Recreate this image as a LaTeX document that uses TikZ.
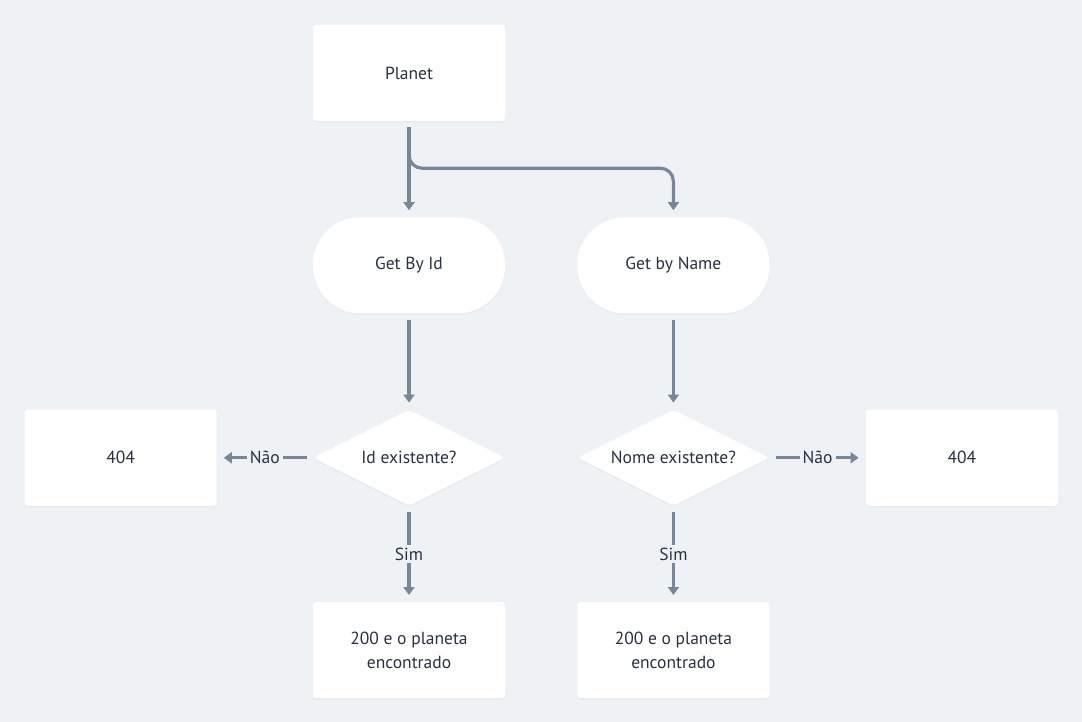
\documentclass[tikz,border=0pt]{standalone}
\usepackage{fontspec}
\setmainfont{PT Sans}
\usepackage{tikz}
\usetikzlibrary{shapes.geometric, arrows.meta, positioning, shadows}
\usepackage{xcolor}
\definecolor{bgcol}{RGB}{239,242,245}
\definecolor{linecol}{RGB}{120,135,152}
\definecolor{txtcol}{RGB}{40,50,66}
\tikzset{
	box/.style={fill=white, rounded corners=3pt, minimum width=192pt, minimum height=96pt, inner sep=0pt, align=center, text=txtcol, drop shadow={opacity=0.06, shadow xshift=0pt, shadow yshift=-1.5pt}},
	pill/.style={box, rounded corners=47pt},
	decision/.style={box, diamond, aspect=2, minimum width=192pt, minimum height=96pt, rounded corners=4pt},
	flow/.style={draw=linecol, line width=3.2pt, -{Triangle[width=11pt,length=8pt]}, shorten <=6pt, shorten >=7pt},
	tag/.style={fill=bgcol, inner sep=3pt, text=txtcol}
}

\begin{document}
\begin{tikzpicture}[x=1pt, y=1pt, font=\fontsize{17.5}{24}\selectfont, node distance=96pt]
		\fill[bgcol] (0,0) rectangle (1082,-722);
		\useasboundingbox (0,0) rectangle (1082,-722);
		
		\node[box] at (409,-73) (planet) {Planet};
		\node[pill, below=of planet] (byid) {Get By Id};
		\node[pill, right=72pt of byid] (byname) {Get by Name};
		\node[decision, below=of byid] (idq) {Id existente?};
		\node[decision, below=of byname] (nameq) {Nome existente?};
		\node[box, left=of idq] (nf1) {404};
		\node[box, right=of nameq] (nf2) {404};
		\node[box, below=of idq] (ok1) {200 e o planeta\\encontrado};
		\node[box, below=of nameq] (ok2) {200 e o planeta\\encontrado};
		\coordinate[above=49pt of byname.north] (fork);
		
		\draw[flow] (planet) -- (byid);
		\draw[flow, rounded corners=13pt] (planet) |- (fork) -- (byname);
		\draw[flow] (byid) -- (idq);
		\draw[flow] (byname) -- (nameq);
		\draw[flow] (idq) -- node[tag]{Não} (nf1);
		\draw[flow] (nameq) -- node[tag]{Não} (nf2);
		\draw[flow] (idq) -- node[tag]{Sim} (ok1);
		\draw[flow] (nameq) -- node[tag]{Sim} (ok2);
	\end{tikzpicture}
\end{document}
